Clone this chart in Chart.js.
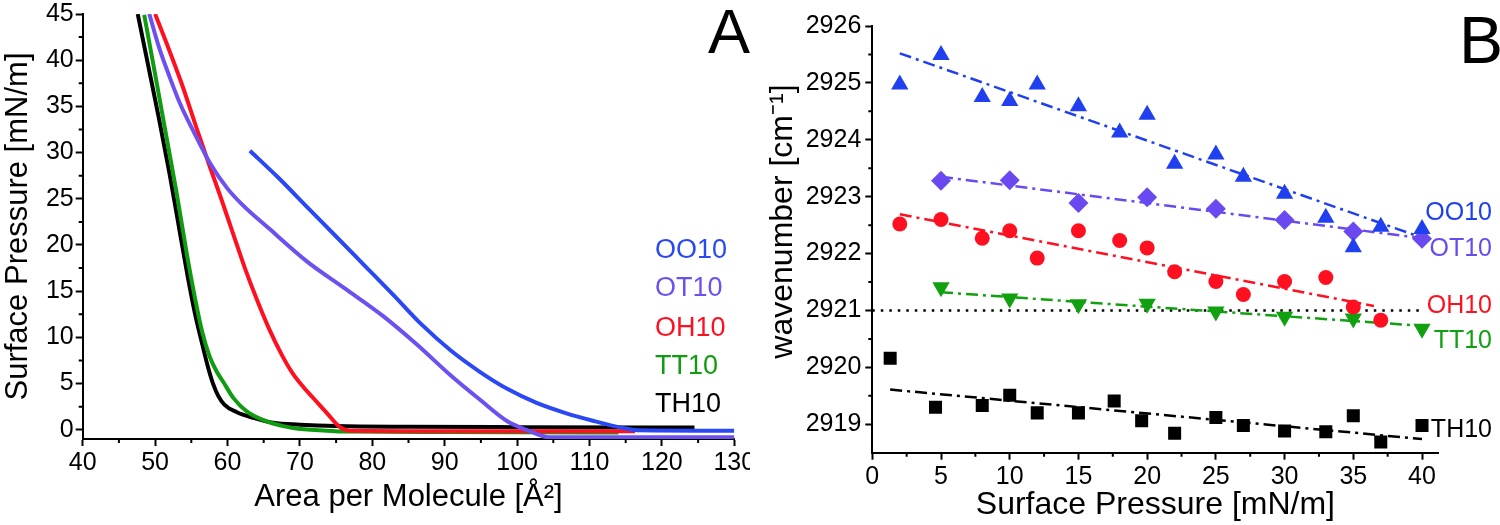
<!DOCTYPE html>
<html>
<head>
<meta charset="utf-8">
<script src="https://cdn.jsdelivr.net/npm/chart.js@4.4.1/dist/chart.umd.min.js"></script>
<style>
html,body{margin:0;padding:0;background:#fff;}
#wrap{position:relative;width:1500px;height:525px;overflow:hidden;background:#fff;}
canvas{position:absolute;top:0;}
</style>
</head>
<body>
<div id="wrap">
<canvas id="chartA" width="750" height="525" style="left:0;width:750px;height:525px"></canvas>
<canvas id="chartB" width="750" height="525" style="left:750px;width:750px;height:525px"></canvas>
</div>
<script>
const FONT = "'Liberation Sans', Arial, Helvetica, sans-serif";

// ---------- names / colours ----------
const seriesNames = ['OO10', 'OT10', 'OH10', 'TT10', 'TH10'];
const colorsA = ['#2a48f4', '#6e50f0', '#ff1020', '#109c10', '#000000'];
const colorsB = ['#2040f0', '#6a4af0', '#ff1020', '#10a010', '#000000'];

// ---------- Panel A : isotherms (area per molecule vs surface pressure) ----------
const oo10Area = [63.1, 67, 71, 74.9, 78.9, 82.9, 86.8, 90.8, 94.8, 98.7, 102.7, 106.7, 110.6, 114.6, 116.6, 130];
const oo10Pi   = [30.2, 27.3, 24.1, 21.0, 17.8, 14.6, 11.4, 8.6, 6.3, 4.4, 2.9, 1.8, 0.95, 0.2, -0.05, -0.1];

const ot10Area = [49.2, 50.5, 52, 53.5, 55.3, 57.7, 60, 62, 65.7, 71, 76.2, 81.5, 86.2, 90.8, 94.8, 98.7, 101.6, 104.3, 130];
const ot10Pi   = [45, 41.5, 38.2, 35.2, 32.3, 28.7, 26.1, 24.4, 21.8, 18.2, 15.3, 12.3, 9.2, 5.9, 3.3, 0.9, -0.1, -0.8, -0.8];

const oh10Area = [50.0, 51.6, 53.7, 55.75, 57.5, 59.0, 60.7, 62.4, 64.0, 65.7, 67.5, 69.0, 70.5, 72.0, 73.7, 75.5, 76.9, 90, 116.3];
const oh10Pi   = [45, 41.8, 37.4, 32.6, 28.6, 25.3, 21.4, 17.5, 14.2, 11.0, 8.1, 6.1, 4.6, 3.3, 1.83, 0.3, -0.1, -0.15, -0.15];

const tt10Area = [48.5, 50, 51.5, 53, 54.5, 55.5, 56.5, 57.5, 58.5, 59.4, 60.8, 62.65, 65.4, 69.1, 73.7, 76.5, 90, 114];
const tt10Pi   = [44.9, 38.5, 32.0, 25.5, 18.5, 14.3, 10.6, 8.0, 6.3, 5.2, 3.45, 2.0, 0.92, 0.2, -0.1, -0.2, -0.25, -0.3];

const th10Area = [47.6, 49, 50.5, 52, 53.5, 54.5, 55.5, 56.5, 57.3, 58, 58.7, 59.6, 61.3, 63.6, 66.3, 70, 75, 85, 100, 124.5];
const th10Pi   = [45, 39.6, 33.8, 27.7, 21.0, 16.6, 12.6, 9.3, 6.8, 5.0, 3.7, 2.7, 1.9, 1.28, 0.75, 0.55, 0.4, 0.32, 0.28, 0.25];

const areaTicks = {min: 40, max: 130, step: 10};
const piTicksA  = {min: -1, max: 45, step: 5};

// ---------- Panel B : CH2 stretching wavenumber vs surface pressure ----------
const oo10P  = [2, 5, 8, 10, 12, 15, 18, 20, 22, 25, 27, 30, 33, 35, 37, 40];
const oo10Wn = [2924.97, 2925.49, 2924.75, 2924.68, 2924.97, 2924.59, 2924.13, 2924.44, 2923.58, 2923.74, 2923.35, 2923.05, 2922.63, 2922.11, 2922.47, 2922.43];

const ot10P  = [5, 10, 15, 20, 25, 30, 35, 40];
const ot10Wn = [2923.28, 2923.29, 2922.89, 2922.99, 2922.79, 2922.59, 2922.39, 2922.26];

const oh10P  = [2, 5, 8, 10, 12, 15, 18, 20, 22, 25, 27, 30, 33, 35, 37];
const oh10Wn = [2922.52, 2922.60, 2922.27, 2922.40, 2921.92, 2922.40, 2922.23, 2922.10, 2921.68, 2921.51, 2921.28, 2921.51, 2921.58, 2921.06, 2920.83];

const tt10P  = [5, 10, 15, 20, 25, 30, 35, 40];
const tt10Wn = [2921.41, 2921.21, 2921.11, 2921.12, 2920.98, 2920.89, 2920.86, 2920.68];

const th10P  = [1.3, 4.6, 8, 10, 12, 15, 17.6, 19.6, 22, 25, 27, 30, 33, 35, 37, 40];
const th10Wn = [2920.16, 2919.30, 2919.33, 2919.51, 2919.20, 2919.20, 2919.41, 2919.06, 2918.84, 2919.12, 2918.98, 2918.88, 2918.87, 2919.15, 2918.69, 2918.98];

// linear fits (end points)
const oo10FitP = [2, 40],   oo10FitWn = [2925.52, 2922.28];
const ot10FitP = [5, 40],   ot10FitWn = [2923.35, 2922.27];
const oh10FitP = [2, 36.5], oh10FitWn = [2922.69, 2921.08];
const tt10FitP = [5, 40],   tt10FitWn = [2921.32, 2920.73];
const th10FitP = [1.3, 40], th10FitWn = [2919.61, 2918.74];
const refP = [0, 40], refWn = [2921, 2921];

const pressureTicks = {min: 0, max: 41.2, step: 5};
const wnTicks = {min: 2918.5, max: 2926, step: 1};

// ---------- helpers ----------
const pts = (xs, ys) => xs.map((x, i) => ({x: x, y: ys[i]}));

const minorTicks = {
  id: 'minorTicks',
  afterDraw(chart, args, opts) {
    const ctx = chart.ctx;
    ctx.save();
    ctx.strokeStyle = '#000';
    ctx.lineWidth = 2;
    ['x', 'y'].forEach(id => {
      const s = chart.scales[id];
      const vals = s.ticks.map(t => t.value);
      const step = vals[1] - vals[0];
      ctx.beginPath();
      vals.forEach(v0 => {
        const v = v0 + step / 2;
        if (v > s.max || v < s.min) return;
        const p = s.getPixelForValue(v);
        if (id === 'x') { ctx.moveTo(p, s.top); ctx.lineTo(p, s.top + opts.len); }
        else { ctx.moveTo(s.right, p); ctx.lineTo(s.right - opts.len, p); }
      });
      ctx.stroke();
    });
    ctx.restore();
  }
};

const textLabels = {
  id: 'textLabels',
  afterDraw(chart, args, opts) {
    const ctx = chart.ctx;
    ctx.save();
    ctx.textBaseline = 'alphabetic';
    opts.items.forEach(t => {
      ctx.font = t.font;
      ctx.fillStyle = t.color;
      ctx.textAlign = t.align;
      ctx.fillText(t.text, t.x, t.y);
    });
    ctx.restore();
  }
};

function axis(cfg, fixed, tickFont, tickPad, title, titleSize, titlePad, isX) {
  return {
    type: 'linear',
    min: cfg.min, max: cfg.max,
    ticks: {stepSize: cfg.step, includeBounds: false, color: '#000', font: {family: FONT, size: tickFont}, padding: tickPad, maxRotation: 0, autoSkip: false,
            callback: v => String(Math.round(v * 100) / 100)},
    grid: {display: true, drawOnChartArea: false, drawTicks: true, tickLength: 7, tickWidth: 2, tickColor: '#000'},
    border: {display: true, color: '#000', width: 2},
    title: {display: true, text: title, color: '#000', font: {family: FONT, size: titleSize}, padding: titlePad},
    afterFit(s) {
      if (isX) s.height = fixed; else s.width = fixed;
      s.paddingLeft = 0; s.paddingRight = 0; s.paddingTop = 0; s.paddingBottom = 0;
    }
  };
}

// ---------- Chart A ----------
const lineA = (name, xs, ys, col) => ({
  label: name, data: pts(xs, ys), showLine: true, borderColor: col, borderWidth: 4,
  pointRadius: 0, cubicInterpolationMode: 'monotone', fill: false
});

new Chart(document.getElementById('chartA'), {
  type: 'scatter',
  data: {
    datasets: [
      lineA(seriesNames[0], oo10Area, oo10Pi, colorsA[0]),
      lineA(seriesNames[1], ot10Area, ot10Pi, colorsA[1]),
      lineA(seriesNames[2], oh10Area, oh10Pi, colorsA[2]),
      lineA(seriesNames[3], tt10Area, tt10Pi, colorsA[3]),
      lineA(seriesNames[4], th10Area, th10Pi, colorsA[4])
    ]
  },
  options: {
    responsive: false, animation: false,
    layout: {padding: {left: 0, top: 14, right: 15.7, bottom: 0}},
    scales: {
      x: axis(areaTicks, 86, 25, 2, 'Area per Molecule [Å²]', 31, {top: 0, bottom: 9}, true),
      y: axis(piTicksA, 82.7, 25, 2, 'Surface Pressure [mN/m]', 31, {top: 0, bottom: 0}, false)
    },
    plugins: {
      legend: {display: false}, tooltip: {enabled: false},
      minorTicks: {len: 4},
      textLabels: {items: [
        {text: 'A', x: 750, y: 53, font: '63px ' + FONT, color: '#000', align: 'right'},
        {text: seriesNames[0], x: 655, y: 258, font: '27px ' + FONT, color: colorsA[0], align: 'left'},
        {text: seriesNames[1], x: 655, y: 296, font: '27px ' + FONT, color: colorsA[1], align: 'left'},
        {text: seriesNames[2], x: 655, y: 336, font: '27px ' + FONT, color: colorsA[2], align: 'left'},
        {text: seriesNames[3], x: 655, y: 374, font: '27px ' + FONT, color: colorsA[3], align: 'left'},
        {text: seriesNames[4], x: 655, y: 412, font: '27px ' + FONT, color: colorsA[4], align: 'left'}
      ]}
    }
  },
  plugins: [minorTicks, textLabels]
});

// ---------- Chart B ----------
const DASHDOT = [12, 5, 3, 5];
const markers = (name, xs, ys, col, style, r, rot) => ({
  label: name, data: pts(xs, ys), showLine: false, pointStyle: style, pointRadius: r,
  pointRotation: rot || 0, pointBackgroundColor: col, pointBorderWidth: 0, pointBorderColor: col
});
const fit = (name, xs, ys, col, dash) => ({
  label: name + ' fit', data: pts(xs, ys), showLine: true, borderColor: col, borderWidth: 2.5,
  borderDash: dash, pointRadius: 0, fill: false
});

new Chart(document.getElementById('chartB'), {
  type: 'scatter',
  data: {
    datasets: [
      markers(seriesNames[0], oo10P, oo10Wn, colorsB[0], 'triangle', 10),
      markers(seriesNames[1], ot10P, ot10Wn, colorsB[1], 'rectRot', 10),
      markers(seriesNames[2], oh10P, oh10Wn, colorsB[2], 'circle', 7.5),
      markers(seriesNames[3], tt10P, tt10Wn, colorsB[3], 'triangle', 10, 180),
      markers(seriesNames[4], th10P, th10Wn, colorsB[4], 'rect', 9.2),
      fit(seriesNames[0], oo10FitP, oo10FitWn, colorsB[0], DASHDOT),
      fit(seriesNames[1], ot10FitP, ot10FitWn, colorsB[1], DASHDOT),
      fit(seriesNames[2], oh10FitP, oh10FitWn, colorsB[2], DASHDOT),
      fit(seriesNames[3], tt10FitP, tt10FitWn, colorsB[3], DASHDOT),
      fit(seriesNames[4], th10FitP, th10FitWn, colorsB[4], DASHDOT),
      fit('reference', refP, refWn, '#000', [2.5, 6])
    ]
  },
  options: {
    responsive: false, animation: false,
    layout: {padding: {left: 0, top: 26, right: 61.5, bottom: 0}},
    scales: {
      x: axis(pressureTicks, 72.3, 25, 2, 'Surface Pressure [mN/m]', 32, {top: 0, bottom: 0.8}, true),
      y: axis(wnTicks, 122.3, 25, 4, '    wavenumber [cm\u207B\u00B9]', 32, {top: 13.8, bottom: 0}, false)
    },
    plugins: {
      legend: {display: false}, tooltip: {enabled: false},
      minorTicks: {len: 4},
      textLabels: {items: [
        {text: 'B', x: 753, y: 63, font: '66px ' + FONT, color: '#000', align: 'right'},
        {text: seriesNames[0], x: 742, y: 220, font: '25px ' + FONT, color: colorsB[0], align: 'right'},
        {text: seriesNames[1], x: 742, y: 256, font: '25px ' + FONT, color: colorsB[1], align: 'right'},
        {text: seriesNames[2], x: 742, y: 313, font: '25px ' + FONT, color: colorsB[2], align: 'right'},
        {text: seriesNames[3], x: 742, y: 348, font: '25px ' + FONT, color: colorsB[3], align: 'right'},
        {text: seriesNames[4], x: 742, y: 437, font: '25px ' + FONT, color: colorsB[4], align: 'right'}
      ]}
    }
  },
  plugins: [minorTicks, textLabels]
});
</script>
</body>
</html>
